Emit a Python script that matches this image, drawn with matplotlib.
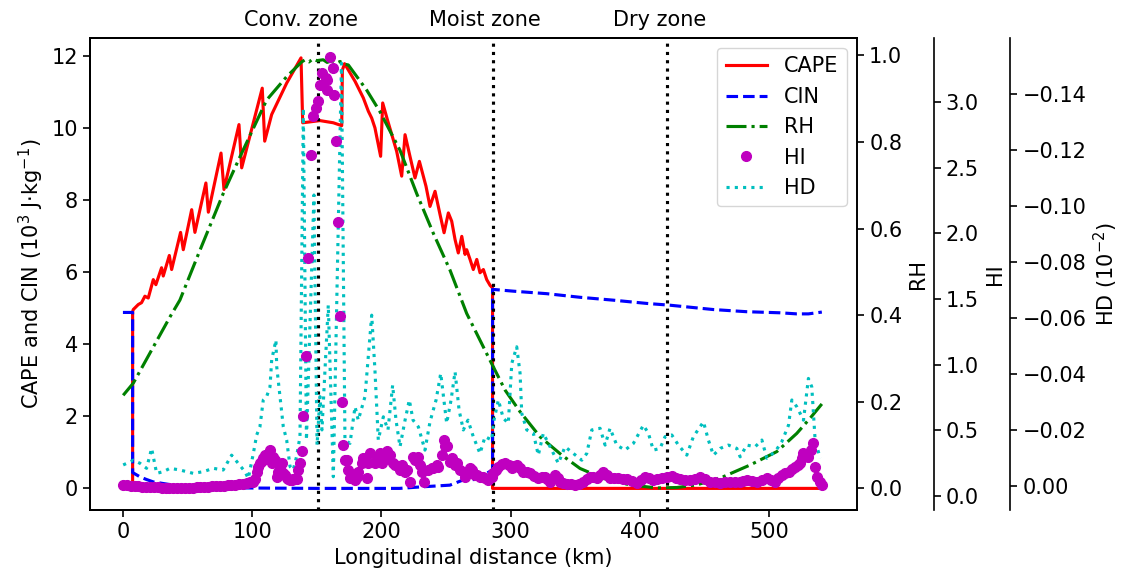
import matplotlib
matplotlib.use("Agg")
import matplotlib.pyplot as plt

plt.rcParams["font.size"] = 15
plt.rcParams["axes.linewidth"] = 1.2
plt.rcParams["xtick.major.size"] = 5.25
plt.rcParams["ytick.major.size"] = 5.25
plt.rcParams["xtick.major.width"] = 1.2
plt.rcParams["ytick.major.width"] = 1.2
plt.rcParams["lines.linewidth"] = 2.25

# -------------------- data --------------------
# CAPE (10^3 J/kg) vs longitudinal distance (km)
cape_x = [0, 7.5, 7.5, 8.0, 11.9, 14.4, 17.0, 19.6, 23.5, 25.5, 29.9, 31.2, 35.9, 37.7,
          44.6, 46.7, 53.2, 55.7, 64.2, 66.1, 75.9, 78.2, 89.8, 91.9, 107.8, 109.7,
          115.1, 126.7, 137.8, 139.1, 152.5, 162.8, 169.3, 169.8, 171.5, 179.6, 186.0,
          189.9, 192.5, 195.0, 199.4, 201.0, 204.6, 209.2, 211.8, 215.7, 218.3, 222.1,
          226.0, 229.4, 234.5, 237.6, 241.5, 245.4, 248.5, 251.8, 254.4, 257.0, 259.5,
          262.2, 264.7, 266.0, 268.6, 271.1, 273.8, 276.3, 278.9, 281.5, 284.1, 286.0,
          286.0, 540.8]
cape_y = [0, 0, 4.90, 4.96, 5.10, 5.15, 5.33, 5.28, 5.79, 5.65, 6.12, 5.89, 6.46, 6.07,
          7.10, 6.62, 7.73, 7.10, 8.47, 7.66, 9.30, 8.29, 10.09, 8.89, 11.10, 9.63,
          10.37, 11.24, 11.94, 10.14, 10.20, 10.14, 10.06, 11.60, 11.78, 11.29, 10.83,
          10.46, 10.27, 10.00, 9.21, 10.69, 10.23, 9.67, 9.35, 8.66, 9.81, 9.21,
          8.61, 9.07, 8.38, 7.82, 8.24, 7.59, 7.09, 7.64, 7.41, 6.90, 6.53,
          6.99, 6.49, 6.62, 6.35, 6.07, 6.35, 5.98, 6.07, 5.79, 5.63, 5.56,
          0.0, 0.0]

# CIN (10^3 J/kg)
cin_x = [0, 7.5, 7.5, 13.2, 18.0, 23.5, 33.8, 45.0, 60.0, 100.9, 150.0, 214.0, 230.0,
         253.0, 263.0, 273.8, 281.5, 286.0, 286.0, 302.0, 328.0, 353.7, 379.5, 405.3,
         423.4, 456.9, 482.7, 508.5, 521.4, 530.4, 540.8]
cin_y = [4.88, 4.88, 0.44, 0.32, 0.25, 0.18, 0.12, 0.06, 0.03, 0.01, 0.0, 0.0, 0.04,
         0.09, 0.23, 0.25, 0.42, 0.51, 5.52, 5.47, 5.40, 5.30, 5.22, 5.13,
         5.08, 4.96, 4.90, 4.87, 4.84, 4.84, 4.89]

# RH
rh_x = [0.2, 8.0, 36.4, 44.1, 59.6, 77.6, 90.6, 111.2, 126.7, 138.3, 141.0, 144.0,
        147.0, 150.0, 155.0, 158.0, 162.0, 165.0, 168.0, 171.0, 174.4, 188.6, 198.9,
        214.4, 227.3, 240.2, 253.1, 266.0, 284.0, 295.7, 307.3, 322.8, 339.5, 353.7,
        371.8, 392.4, 413.1, 428.6, 444.0, 464.6, 485.3, 506.0, 521.4, 531.7, 540.8]
rh_y = [0.215, 0.243, 0.396, 0.435, 0.550, 0.681, 0.766, 0.897, 0.951, 0.985, 0.990,
        0.985, 0.992, 0.988, 0.990, 0.984, 0.988, 0.982, 0.986, 0.980, 0.978, 0.920,
        0.870, 0.781, 0.681, 0.589, 0.504, 0.404, 0.296, 0.227, 0.177, 0.119, 0.077,
        0.046, 0.023, 0.008, 0.001, 0.002, 0.008, 0.027, 0.054, 0.085, 0.127, 0.162,
        0.195]

# HI
hi_x = [0.0, 3, 6, 9, 12, 15, 18, 21, 24, 27, 30, 33, 36, 39, 42, 45, 48, 51, 54, 57,
        60, 63, 66, 69, 72, 75, 78, 81, 84, 87, 90, 93, 96, 98.5,
        100.9, 102.2, 103.5, 104.8, 106.0, 107.3, 108.6, 110.0, 111.2, 112.5, 113.8,
        115.1, 116.3, 117.6, 119.0, 120.2, 121.5, 122.8, 124.1, 125.4, 126.7, 128.0,
        129.3, 130.6, 131.8, 133.2, 134.5, 135.7, 137.0, 138.3, 139.6, 141.5, 143.4,
        145.3, 146.8, 149.4, 151.2, 152.5, 154.3, 157.1, 157.7, 158.1, 160.2, 162.3,
        163.3, 164.9, 166.6, 168.0, 169.3, 170.5, 171.8, 173.0, 174.4, 175.7, 178.1,
        179.6, 180.9, 182.1, 184.8, 186.0, 188.6, 189.9, 191.2, 195.0, 196.4, 198.9,
        200.2, 202.8, 204.1, 206.7, 209.2, 210.5, 214.4, 215.7, 218.3, 219.6, 222.1,
        224.7, 226.0, 228.6, 229.9, 231.2, 233.0, 236.3, 238.9, 240.2, 242.8, 244.0,
        246.7, 248.5, 249.2, 250.5, 253.1, 254.4, 257.0, 258.3, 260.8, 264.7, 266.0,
        268.6, 269.9, 272.4, 273.8, 276.3, 278.9, 280.2, 282.7, 285.4,
        286.6, 288.5, 290.5, 293.0, 295.7, 298.5, 300.9, 302.8, 304.7, 307.2, 309.8,
        312.4, 315.0, 318.2, 321.4, 324.0, 326.6, 328.5, 330.5, 332.5, 334.4, 336.3,
        338.2, 340.8, 343.4, 346.6, 349.8, 353.0, 356.3, 358.9, 361.5, 364.0, 366.6,
        369.2, 371.8, 374.4, 377.0, 380.2, 383.4, 386.6, 389.9, 393.7, 397.6, 400.8,
        404.0, 407.2, 410.4, 413.6, 416.9, 420.8, 424.7, 427.9, 431.1, 435.0, 438.9,
        442.7, 446.6, 450.4, 454.3, 458.2, 462.1, 466.0, 469.8, 473.7, 477.6, 480.1,
        482.7, 486.6, 490.5, 494.4, 498.2, 501.4, 504.6, 507.2, 509.8, 512.4, 515.0,
        517.5, 520.1, 522.0, 524.0, 525.2, 526.5, 528.5, 530.4, 532.1, 533.8, 535.6,
        537.4, 539.0, 540.8]
hi_y = [0.084, 0.080, 0.077, 0.075, 0.073, 0.071, 0.069, 0.068, 0.067, 0.066, 0.064,
        0.062, 0.060, 0.059, 0.059, 0.059, 0.060, 0.061, 0.063, 0.065, 0.067, 0.069,
        0.071, 0.073, 0.075, 0.077, 0.079, 0.081, 0.084, 0.087, 0.090, 0.093, 0.097,
        0.103,
        0.109, 0.130, 0.186, 0.220, 0.250, 0.270, 0.288, 0.310, 0.300, 0.280, 0.352,
        0.250, 0.300, 0.275, 0.148, 0.180, 0.212, 0.250, 0.174, 0.160, 0.135, 0.130,
        0.122, 0.125, 0.130, 0.130, 0.128, 0.199, 0.250, 0.339, 0.606, 1.065, 1.810,
        2.594, 2.895, 2.951, 3.007, 3.129, 3.219, 3.180, 3.091, 3.167, 3.346, 3.262,
        3.053, 2.701, 2.085, 1.371, 0.713, 0.390, 0.275, 0.275, 0.199, 0.135, 0.161,
        0.122, 0.148, 0.186, 0.250, 0.288, 0.135, 0.250, 0.326, 0.250, 0.300, 0.326,
        0.250, 0.288, 0.339, 0.313, 0.250, 0.237, 0.199, 0.237, 0.186, 0.199, 0.109,
        0.300, 0.275, 0.300, 0.237, 0.186, 0.109, 0.199, 0.212, 0.212, 0.237, 0.224,
        0.313, 0.428, 0.377, 0.377, 0.262, 0.288, 0.237, 0.250, 0.199, 0.148, 0.186,
        0.212, 0.199, 0.161, 0.161, 0.148, 0.148, 0.135, 0.122, 0.148,
        0.174, 0.200, 0.224, 0.245, 0.250, 0.235, 0.212, 0.225, 0.237, 0.215, 0.186,
        0.180, 0.174, 0.155, 0.135, 0.145, 0.148, 0.130, 0.109, 0.140, 0.161, 0.135,
        0.109, 0.100, 0.092, 0.088, 0.084, 0.095, 0.109, 0.130, 0.148, 0.142, 0.135,
        0.160, 0.186, 0.160, 0.135, 0.138, 0.135, 0.132, 0.128, 0.112, 0.097, 0.125,
        0.148, 0.135, 0.122, 0.130, 0.135, 0.145, 0.153, 0.140, 0.128, 0.125, 0.122,
        0.132, 0.143, 0.126, 0.109, 0.103, 0.097, 0.103, 0.109, 0.109, 0.109, 0.115,
        0.122, 0.115, 0.109, 0.122, 0.135, 0.122, 0.109, 0.135, 0.161, 0.174, 0.186,
        0.205, 0.224, 0.237, 0.250, 0.290, 0.326, 0.310, 0.300, 0.350, 0.407, 0.224,
        0.148, 0.110, 0.084]

# HD (10^-2)
hd_x = [0.2, 5.4, 8.0, 13.2, 18.3, 22.2, 26.1, 31.2, 36.4, 44.1, 54.4, 62.2, 69.9, 77.6,
        84.1, 89.2, 94.4, 97.0, 100.9, 103.5, 106.0, 108.6, 111.2, 113.8, 115.1, 118.4,
        119.0, 121.5, 124.1, 126.7, 129.3, 131.8, 134.3, 137.0, 139.6, 142.0, 147.8,
        150.2, 152.5, 154.0, 158.9, 162.8, 169.1, 171.8, 175.7, 179.6, 182.1, 187.3,
        192.5, 195.0, 197.6, 201.5, 205.1, 208.7, 211.3, 214.4, 218.3, 221.6, 224.5,
        228.6, 233.7, 237.6, 242.3, 245.9, 250.5, 253.9, 257.0, 260.1, 263.4, 267.0,
        271.1, 276.3, 280.2, 285.4, 286.6, 290.5, 294.3, 298.2, 300.9, 304.7, 307.3,
        308.6, 312.5, 317.6, 321.4, 325.3, 330.5, 336.9, 342.1, 348.5, 355.0, 358.9,
        362.8, 369.2, 373.1, 376.9, 382.1, 388.5, 395.0, 402.7, 406.6, 410.4, 415.6,
        419.5, 424.7, 429.8, 436.3, 441.4, 449.2, 453.0, 456.9, 462.1, 468.5, 475.0,
        477.6, 482.7, 489.2, 494.4, 498.2, 504.6, 509.8, 515.0, 517.6, 521.4, 526.6,
        530.4, 533.0, 535.6, 539.5]
hd_y = [-0.0074, -0.0085, -0.0091, -0.0080, -0.0062, -0.0133, -0.0044, -0.0050, -0.0062,
        -0.0056, -0.0044, -0.0050, -0.0062, -0.0056, -0.0109, -0.0080, -0.0050, -0.0026,
        -0.0115, -0.0181, -0.0210, -0.0306, -0.0318, -0.0353, -0.0449, -0.0520, -0.0425,
        -0.0318, -0.0210, -0.0163, -0.0068, -0.0056, -0.0103, -0.0175, -0.1348, -0.0163,
        -0.1038, -0.0145, -0.0318, -0.0199, -0.0645, -0.0032, -0.1509, -0.0163, -0.0151,
        -0.0282, -0.0234, -0.0318, -0.0609, -0.0413, -0.0163, -0.0246, -0.0199, -0.0359,
        -0.0234, -0.0139, -0.0234, -0.0306, -0.0234, -0.0210, -0.0127, -0.0228, -0.0306,
        -0.0401, -0.0223, -0.0306, -0.0407, -0.0270, -0.0199, -0.0234, -0.0175, -0.0115,
        -0.0175, -0.0163, -0.0223, -0.0306, -0.0241, -0.0223, -0.0437, -0.0496, -0.0401,
        -0.0258, -0.0199, -0.0187, -0.0109, -0.0187, -0.0139, -0.0080, -0.0139, -0.0115,
        -0.0091, -0.0115, -0.0199, -0.0205, -0.0145, -0.0205, -0.0145, -0.0127, -0.0151,
        -0.0216, -0.0187, -0.0127, -0.0133, -0.0175, -0.0181, -0.0145, -0.0109, -0.0175,
        -0.0228, -0.0163, -0.0109, -0.0133, -0.0145, -0.0133, -0.0103, -0.0145, -0.0139,
        -0.0163, -0.0098, -0.0121, -0.0157, -0.0216, -0.0306, -0.0282, -0.0234, -0.0383,
        -0.0353, -0.0163, -0.0098]

zone_x = [151, 286, 421]
zone_label_x = [138, 280, 415]
zone_labels = ["Conv. zone", "Moist zone", "Dry zone"]
hd_ticks = [0.0, -0.02, -0.04, -0.06, -0.08, -0.10, -0.12, -0.14]

# -------------------- figure --------------------
fig = plt.figure(figsize=(11.26, 5.78), dpi=100)
ax = fig.add_axes([0.0799, 0.1176, 0.6812, 0.8172])

l_cape, = ax.plot(cape_x, cape_y, "r-", label="CAPE")
l_cin, = ax.plot(cin_x, cin_y, "b--", label="CIN")
for zx in zone_x:
    ax.axvline(zx, color="k", linestyle=":", linewidth=2.25)
for zx, zl in zip(zone_label_x, zone_labels):
    ax.text(zx, 1.025, zl, transform=ax.get_xaxis_transform(), ha="center", va="baseline")

ax.set_xlim(-25.5, 568)
ax.set_ylim(-0.60, 12.50)
ax.set_xlabel("Longitudinal distance (km)")
ax.set_ylabel(r"CAPE and CIN ($10^3$ J$\cdot$kg$^{-1}$)")

# RH axis
ax_rh = ax.twinx()
l_rh, = ax_rh.plot(rh_x, rh_y, "g-.", label="RH")
ax_rh.set_ylim(-0.050, 1.041)
ax_rh.set_ylabel("RH")

# HD axis (inverted)
ax_hd = ax.twinx()
ax_hd.spines["right"].set_position(("axes", 1.2))
l_hd, = ax_hd.plot(hd_x, hd_y, "c:", label="HD")
ax_hd.set_ylim(0.0087, -0.160)
ax_hd.set_yticks(hd_ticks)
ax_hd.set_ylabel(r"HD ($10^{-2}$)")

# HI axis
ax_hi = ax.twinx()
ax_hi.spines["right"].set_position(("axes", 1.1))
l_hi, = ax_hi.plot(hi_x, hi_y, "mo", markersize=7, label="HI")
ax_hi.set_ylim(-0.107, 3.49)
ax_hi.set_ylabel("HI")

handles = [l_cape, l_cin, l_rh, l_hi, l_hd]
ax_hi.legend(handles, [h.get_label() for h in handles], loc="upper right")

fig.savefig("out.png", dpi=100)
